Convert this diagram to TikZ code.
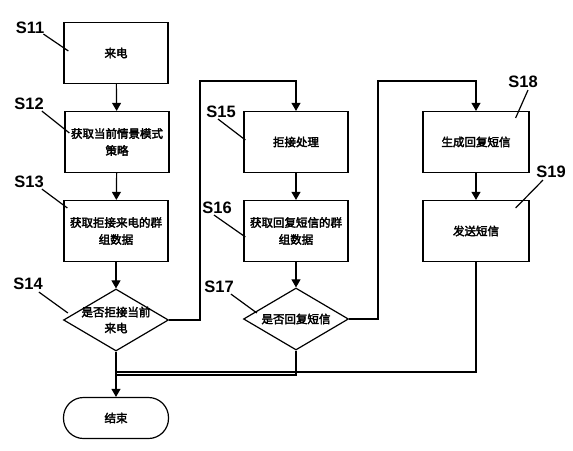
\documentclass[tikz,border=0pt]{standalone}
\usepackage{fontspec}
\setmainfont{Liberation Sans}
\newfontfamily\cjk{Noto Sans CJK SC}[FakeBold=2.8]
\usetikzlibrary{shapes.geometric,arrows,positioning}
\tikzset
{
    stepnode/.style = {rectangle, draw=black, line width=1.2pt, align=center, minimum width=104pt, minimum height=61pt, font=\cjk\fontsize{11.5}{17}\selectfont},
    decisionnode/.style = {diamond, draw=black, line width=1.2pt, minimum width=105pt, minimum height=62pt, inner sep=0pt},
    decisiontext/.style = {align=center, inner sep=0pt, font=\cjk\fontsize{11.5}{16}\selectfont},
    endnode/.style = {rectangle, rounded corners=20pt, draw=black, line width=1.2pt, minimum width=105pt, minimum height=41pt, font=\cjk\fontsize{11.5}{16}\selectfont},
    steplabel/.style = {inner sep=0pt, font=\bfseries\fontsize{16.5}{16.5}\selectfont},
    flow/.style = {line width=1.2pt, -triangle 60},
    link/.style = {line width=1.2pt}
}
\begin{document}
\begin{tikzpicture}[x=1pt, y=-1pt]
	\useasboundingbox (0,0) rectangle (573,450);
	% left column
	\node[stepnode] (s11) at (116,53) {来电};
	\node[stepnode] (s12) at (117,142) {获取当前情景模式\\策略};
	\node[stepnode] (s13) at (116,231) {获取拒接来电的群\\组数据};
	\node[decisionnode] (s14) at (116,320) {};
	\node[decisiontext] (t14) at (s14) {是否拒接当前\\来电};
	\node[endnode] (end) at (116,418) {结束};
	% middle column
	\node[stepnode] (s15) at (296,142) {拒接处理};
	\node[stepnode] (s16) at (296,231) {获取回复短信的群\\组数据};
	\node[decisionnode] (s17) at (296,319) {};
	\node[decisiontext] (t17) at (s17) {是否回复短信};
	% right column
	\node[stepnode, minimum width=106pt] (s18) at (476,142) {生成回复短信};
	\node[stepnode, minimum width=106pt] (s19) at (476,231) {发送短信};
	% turning points
	\coordinate (c14) at (200,81);
	\coordinate (c17) at (378,81);
	\coordinate (j17) at (116,375);
	\coordinate (j19) at (116,372);
	% connectors
	\draw[flow] (s11) -- (s12);
	\draw[flow] (s12) -- (s13);
	\draw[flow] (s13) -- (s14);
	\draw[flow] (s14) -- (end);
	\draw[flow] (s14.east) -| (c14) -| (s15.north);
	\draw[flow] (s15) -- (s16);
	\draw[flow] (s16) -- (s17);
	\draw[flow] (s17.east) -| (c17) -| (s18.north);
	\draw[flow] (s18) -- (s19);
	\draw[link] (s17.south) |- (j17);
	\draw[link] (s19.south) |- (j19);
	% step labels
	\node[steplabel] (l11) at (30,28) {S11};
	\node[steplabel] (l12) at (29,104) {S12};
	\node[steplabel] (l13) at (29,182) {S13};
	\node[steplabel] (l14) at (28,284) {S14};
	\node[steplabel] (l15) at (221,112) {S15};
	\node[steplabel] (l16) at (217,208) {S16};
	\node[steplabel] (l17) at (219,287) {S17};
	\node[steplabel] (l18) at (523,82) {S18};
	\node[steplabel] (l19) at (551,172) {S19};
	\draw[link] ([shift={(-1,0)}]l11.south east) -- ([shift={(5,-2)}]s11.west);
	\draw[link] ([shift={(-2,1)}]l12.south east) -- ([shift={(5,-9)}]s12.west);
	\draw[link] ([shift={(-2,1)}]l13.south east) -- ([shift={(4,-23)}]s13.west);
	\draw[link] ([shift={(-4,2)}]l14.south east) -- ([shift={(5,-7)}]s14.west);
	\draw[link] ([shift={(-3,1)}]l15.south) -- ([shift={(2,-2)}]s15.west);
	\draw[link] ([shift={(-3,1)}]l16.south) -- ([shift={(2,6)}]s16.west);
	\draw[link] ([shift={(-3,1)}]l17.south east) -- ([shift={(14,-6)}]s17.west);
	\draw[link] ([shift={(5,2)}]l18.south) -- ([shift={(-14,-24)}]s18.east);
	\draw[link] ([shift={(-8,2)}]l19.south) -- ([shift={(-14,-23)}]s19.east);
\end{tikzpicture}
\end{document}
